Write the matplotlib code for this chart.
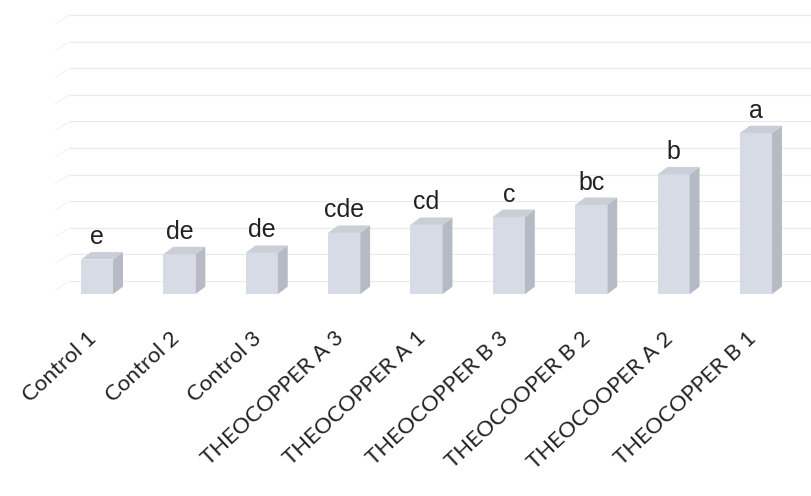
import matplotlib
matplotlib.use('Agg')
import matplotlib.pyplot as plt
from matplotlib.patches import Polygon
import matplotlib.transforms as mtransforms

# data (no y axis is shown, units are grid steps)
labels = ["Control 1", "Control 2", "Control 3", "THEOCOPPER A 3", "THEOCOPPER A 1",
          "THEOCOPPER B 3", "THEOCOOPER B 2", "THEOCOOPER A 2", "THEOCOPPER B 1"]
values = [1.3, 1.5, 1.55, 2.3, 2.6, 2.9, 3.35, 4.5, 6.05]
letters = ["e", "de", "de", "cde", "cd", "c", "bc", "b", "a"]
grid_levels = list(range(11))

# 3d look
bar_w = 0.39
dx, dy = 0.12, 0.28
front_col = "#d7dbe5"
side_col = "#b6bac4"
top_col = "#caced7"

fig = plt.figure(figsize=(8.12, 4.96), dpi=100)
ax = fig.add_axes([55/812, (496-300)/496, (812-55)/812, 300/496])
ax.set_xlim(-0.51, 8.68)
ax.set_ylim(-0.22, 11.05)
for s in ax.spines.values():
    s.set_visible(False)
ax.set_xticks([])
ax.set_yticks([])

# back wall gridlines + faint side wall
for g in grid_levels:
    y = g + 0.49
    ax.plot([-0.33, 8.68], [y, y], color="#e9ebef", lw=0.9, zorder=0)
    ax.plot([-0.33, -0.62], [y, y - 0.55], color="#f1f2f5", lw=0.8, zorder=0)

xs = list(range(len(values)))
ax.bar(xs, values, width=bar_w, color=front_col, edgecolor="none", zorder=3)
for x, v, t in zip(xs, values, letters):
    r = x + bar_w / 2
    l = x - bar_w / 2
    ax.add_patch(Polygon([(r, 0), (r + dx, dy), (r + dx, v + dy), (r, v)],
                         closed=True, fc=side_col, ec="none", zorder=3))
    ax.add_patch(Polygon([(l, v), (l + dx, v + dy), (r + dx, v + dy), (r, v)],
                         closed=True, fc=top_col, ec="none", zorder=3))
    ax.text(x, v + 0.58, t, ha="center", va="baseline", fontsize=18,
            family="Liberation Sans", color="#222222")

# category labels, rotated like the original
trans = mtransforms.blended_transform_factory(ax.transData, ax.transAxes)
trans = trans + mtransforms.ScaledTranslation(-10/100, 0, fig.dpi_scale_trans)
for x, lab in zip(xs, labels):
    ax.text(x, -28/300, lab, transform=trans, rotation=43, ha="right", va="top",
            rotation_mode="anchor", fontsize=16, family="Lato",
            color="#222222", clip_on=False)

fig.savefig("out.png", dpi=100, facecolor="white")
